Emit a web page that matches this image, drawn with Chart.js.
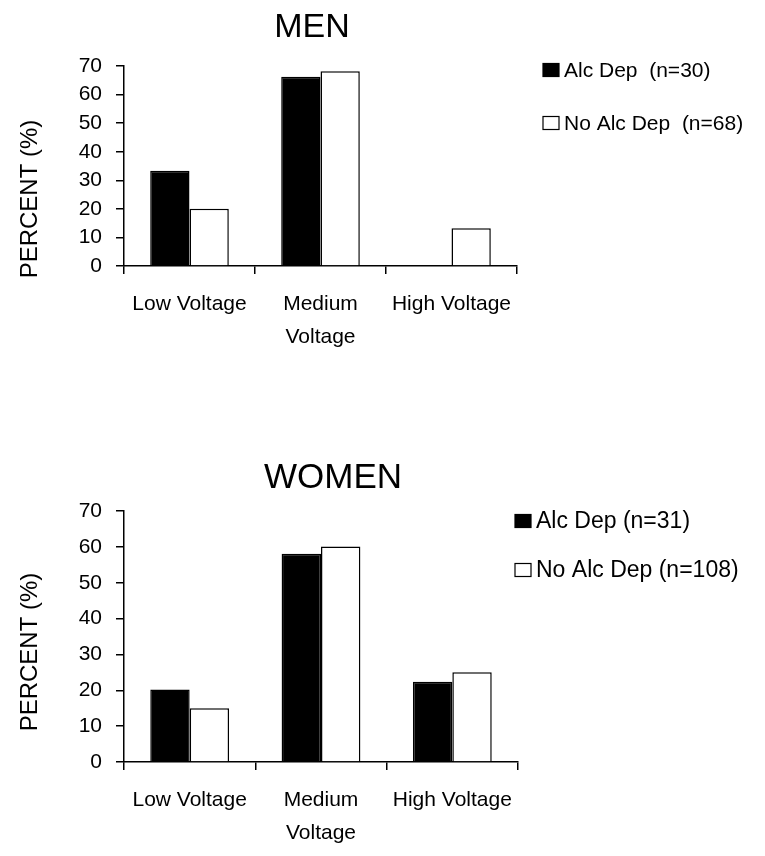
<!DOCTYPE html>
<html>
<head>
<meta charset="utf-8">
<script src="https://cdn.jsdelivr.net/npm/chart.js@4.4.0/dist/chart.umd.min.js"></script>
<style>
  html, body { margin: 0; padding: 0; background: #fff; }
  body { width: 765px; height: 856px; position: relative; overflow: hidden; }
  .box { position: absolute; left: 0; }
</style>
</head>
<body>
<div class="box" style="top:0"><canvas id="graficoHomens" width="765" height="400"></canvas></div>
<div class="box" style="top:430px"><canvas id="graficoMulheres" width="765" height="426"></canvas></div>
<script>
// categorias e valores (percentagem)
const categorias = ['Low Voltage', ['Medium', 'Voltage'], 'High Voltage'];
const yMin = 0;
const yMax = 70;
const yPasso = 10;

const homensAlcDep = [33.3, 66.2, 0];
const homensSemAlcDep = [20, 68.2, 13.2];
const homensLegenda = ['Alc Dep  (n=30)', 'No Alc Dep  (n=68)'];

const mulheresAlcDep = [20.2, 58.1, 22.4];
const mulheresSemAlcDep = [15, 60.1, 25];
const mulheresLegenda = ['Alc Dep (n=31)', 'No Alc Dep (n=108)'];

const FONTE = '"Liberation Sans", Arial, sans-serif';

// desenha titulo, titulo do eixo y e legenda
const decorPlugin = {
    id: 'decor',
    afterDraw(chart, args, opts) {
        const ctx = chart.ctx;
        ctx.save();
        ctx.fillStyle = '#000';
        ctx.textAlign = 'center';
        ctx.textBaseline = 'middle';
        ctx.font = opts.tamTitulo + 'px ' + FONTE;
        ctx.fillText(opts.titulo, opts.tituloX, opts.tituloY);

        ctx.save();
        ctx.translate(opts.yTituloX, opts.yTituloY);
        ctx.rotate(-Math.PI / 2);
        ctx.font = '24px ' + FONTE;
        ctx.fillText(opts.yTitulo, 0, 0);
        ctx.restore();

        ctx.textAlign = 'left';
        ctx.font = opts.tamLegenda + 'px ' + FONTE;
        chart.data.datasets.forEach((ds, i) => {
            const y = opts.legendaY[i];
            ctx.fillStyle = ds.backgroundColor;
            ctx.fillRect(opts.legendaX, y - 6.5, 16, 13);
            ctx.strokeStyle = '#000';
            ctx.lineWidth = 1.2;
            ctx.strokeRect(opts.legendaX, y - 6.5, 16, 13);
            ctx.fillStyle = '#000';
            ctx.fillText(ds.label, opts.legendaX + 21, y + 1);
        });
        ctx.restore();
    }
};

function criarGrafico(id, alc, semAlc, legenda, alturaEixoX, padding, decor) {
    const ctx = document.getElementById(id).getContext('2d');
    return new Chart(ctx, {
        type: 'bar',
        data: {
            labels: categorias,
            datasets: [{
                label: legenda[0],
                data: alc,
                backgroundColor: '#000',
                borderColor: '#000',
                borderWidth: 1.5,
                categoryPercentage: 0.6,
                barPercentage: 1.0
            }, {
                label: legenda[1],
                data: semAlc,
                backgroundColor: '#fff',
                borderColor: '#000',
                borderWidth: 1.5,
                categoryPercentage: 0.6,
                barPercentage: 1.0
            }]
        },
        options: {
            responsive: false,
            animation: false,
            layout: { padding: padding },
            plugins: {
                legend: { display: false },
                tooltip: { enabled: false },
                decor: decor
            },
            scales: {
                x: {
                    border: { color: '#000', width: 1.5 },
                    grid: {
                        offset: true,
                        drawOnChartArea: false,
                        drawTicks: true,
                        tickLength: 8,
                        color: '#000',
                        lineWidth: 1.5
                    },
                    ticks: {
                        color: '#000',
                        padding: 13,
                        maxRotation: 0,
                        autoSkip: false,
                        font: { family: FONTE, size: 21, lineHeight: 1.6 }
                    },
                    afterFit: scale => { scale.height = alturaEixoX; }
                },
                y: {
                    min: yMin,
                    max: yMax,
                    border: { color: '#000', width: 1.5 },
                    grid: {
                        drawOnChartArea: false,
                        drawTicks: true,
                        tickLength: 8,
                        color: '#000',
                        lineWidth: 1.5
                    },
                    ticks: {
                        stepSize: yPasso,
                        color: '#000',
                        padding: 14,
                        font: { family: FONTE, size: 21 }
                    },
                    afterFit: scale => { scale.width = 60; }
                }
            }
        },
        plugins: [decorPlugin]
    });
}

criarGrafico('graficoHomens', homensAlcDep, homensSemAlcDep, homensLegenda, 134,
    { left: 64, right: 248, top: 66, bottom: 0 },
    { titulo: 'MEN', tamTitulo: 34, tituloX: 312, tituloY: 28, yTitulo: 'PERCENT (%)', yTituloX: 30, yTituloY: 199,
      legendaX: 543, tamLegenda: 21, legendaY: [70, 123] });

criarGrafico('graficoMulheres', mulheresAlcDep, mulheresSemAlcDep, mulheresLegenda, 94,
    { left: 64, right: 247, top: 81, bottom: 0 },
    { titulo: 'WOMEN', tamTitulo: 35, tituloX: 333, tituloY: 48, yTitulo: 'PERCENT (%)', yTituloX: 30, yTituloY: 222,
      legendaX: 515, tamLegenda: 23, legendaY: [91, 140] });
</script>
</body>
</html>
